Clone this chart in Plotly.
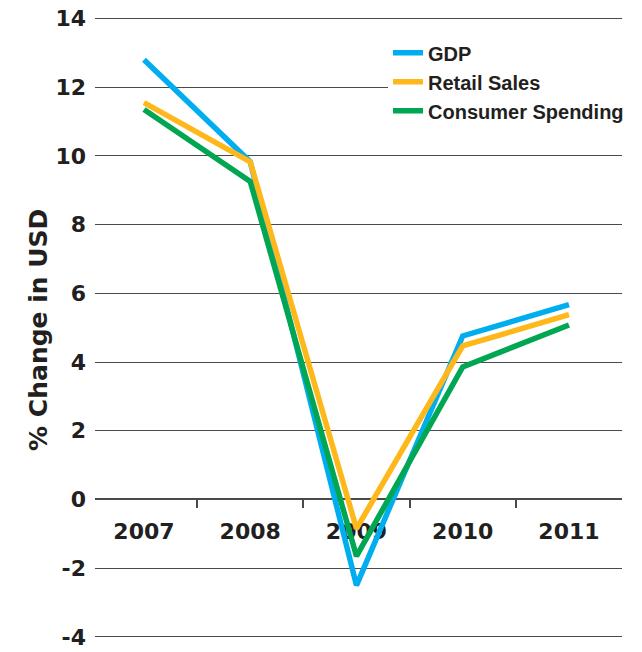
import plotly.graph_objects as go

# Annual % change, 2007-2011
years = ["2007", "2008", "2009", "2010", "2011"]
gdp = [12.8, 9.83, -2.5, 4.76, 5.67]
retail_sales = [11.55, 9.83, -0.85, 4.47, 5.38]
consumer_spending = [11.35, 9.26, -1.65, 3.86, 5.08]

y_ticks = [-4, -2, 0, 2, 4, 6, 8, 10, 12, 14]
y_tick_text = ["-4", "-2", "0", "2", "4", "6", "8", "10", "12", "14"]

TEXT = "#231f20"
GRID = "#4a4a4a"
NUM_FONT = "DejaVu Sans"
LEG_FONT = "Liberation Sans"

series = [
    ("GDP", gdp, "#00aeef", 1),
    ("Consumer Spending", consumer_spending, "#00a651", 3),
    ("Retail Sales", retail_sales, "#ffb81c", 2),
]

fig = go.Figure()
for name, vals, color, rank in series:
    fig.add_trace(go.Scatter(
        x=years, y=vals, name=name, mode="lines",
        line=dict(color=color, width=5.5),
        legendrank=rank,
    ))

y_min, y_max = -4.44, 14.54
zero_pos = (0 - y_min) / (y_max - y_min)

fig.update_layout(
    width=642, height=652,
    margin=dict(l=95, r=20, t=0, b=0),
    paper_bgcolor="white", plot_bgcolor="white",
    font=dict(family=NUM_FONT, color=TEXT, size=20, weight="bold"),
    showlegend=True,
    legend=dict(
        x=0.556, y=0.949, xanchor="left", yanchor="top",
        bgcolor="white", borderwidth=0,
        font=dict(family=LEG_FONT, size=20, color=TEXT, weight="bold"),
        itemwidth=30, tracegroupgap=0,
    ),
    xaxis=dict(
        type="category", range=[-0.461, 4.499],
        anchor="free", position=zero_pos,
        showline=True, linecolor=GRID, linewidth=1.5,
        ticks="outside", ticklen=8, tickcolor=GRID, tickwidth=1.5,
        tickson="boundaries", ticklabelstandoff=12,
        showgrid=False, zeroline=False,
        tickfont=dict(family=NUM_FONT, size=22, color=TEXT, weight="bold"),
        layer="below traces",
    ),
    yaxis=dict(
        range=[y_min, y_max],
        tickvals=y_ticks, ticktext=y_tick_text,
        showgrid=True, gridcolor=GRID, gridwidth=1,
        zeroline=False, showline=False,
        ticks="", ticklabelstandoff=8,
        tickfont=dict(family=NUM_FONT, size=22, color=TEXT, weight="bold"),
        layer="below traces",
    ),
    annotations=[dict(
        text="% Change in USD", textangle=-90,
        xref="paper", yref="paper", x=-0.1063, y=0.494,
        xanchor="center", yanchor="middle", showarrow=False,
        font=dict(family=NUM_FONT, size=25, color=TEXT, weight="bold"),
    )],
)

fig.write_html("out.html")
